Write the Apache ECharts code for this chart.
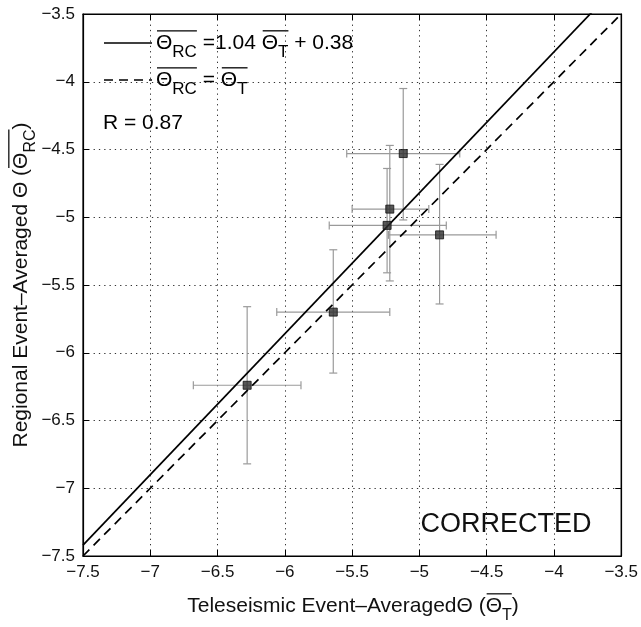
<!DOCTYPE html>
<html>
<head>
<meta charset="utf-8">
<script src="https://cdn.jsdelivr.net/npm/echarts@6/dist/echarts.min.js"></script>
<style>
  html, body { margin: 0; padding: 0; background: #fff; }
  #chart { width: 641px; height: 627px; }
</style>
</head>
<body>
<div id="chart"></div>
<script>
// Axis ticks and their printed labels
const xTickValues = [-7.5, -7, -6.5, -6, -5.5, -5, -4.5, -4, -3.5];
const xTickLabels = ['−7.5', '−7', '−6.5', '−6', '−5.5', '−5', '−4.5', '−4', '−3.5'];
const yTickValues = [-7.5, -7, -6.5, -6, -5.5, -5, -4.5, -4, -3.5];
const yTickLabels = ['−7.5', '−7', '−6.5', '−6', '−5.5', '−5', '−4.5', '−4', '−3.5'];

// Event-averaged values per station group
const thetaT      = [-5.12, -5.22, -5.24, -4.85, -5.64, -6.28];
const thetaRC     = [-4.53, -4.94, -5.06, -5.13, -5.70, -6.24];
const thetaTLow   = [-5.54, -5.50, -5.67, -5.23, -6.06, -6.68];
const thetaTHigh  = [-4.70, -4.93, -4.80, -4.43, -5.22, -5.88];
const thetaRCLow  = [-5.02, -5.47, -5.41, -5.64, -6.15, -6.82];
const thetaRCHigh = [-4.05, -4.47, -4.64, -4.61, -5.24, -5.66];

// Regression fit and the 1:1 reference
const fitSlope = 1.04;
const fitIntercept = 0.38;
const fitR = 0.87;
const axisMin = -7.5, axisMax = -3.5;

const FONT = "'Liberation Sans', Arial, Helvetica, sans-serif";

const fitLine = [
  [axisMin, fitSlope * axisMin + fitIntercept],
  [axisMax, fitSlope * axisMax + fitIntercept]
];
const oneToOne = [[axisMin, axisMin], [axisMax, axisMax]];

const points = thetaT.map((x, i) => [x, thetaRC[i]]);
const bars = thetaT.map((x, i) => [x, thetaRC[i], thetaTLow[i], thetaTHigh[i], thetaRCLow[i], thetaRCHigh[i]]);

function labelFor(values, labels) {
  return v => {
    const i = values.findIndex(t => Math.abs(t - v) < 1e-9);
    return i >= 0 ? labels[i] : '';
  };
}

// text width helper for laying out sub/overlined pieces
const measureCtx = document.createElement('canvas').getContext('2d');
function textWidth(str, size) {
  measureCtx.font = size + 'px ' + FONT;
  return measureCtx.measureText(str).width;
}

// Lays out a run of [text, kind] pieces; kind: 'n' normal, 's' subscript.
// overRanges lists [firstPiece, lastPiece] spans that get an overline.
// align: 'left' starts at x0, 'center' centres the run on x0.
function richRun(x0, y0, pieces, size, subSize, overRanges, color, align) {
  const widths = pieces.map(([str, kind]) => textWidth(str, kind === 's' ? subSize : size));
  const total = widths.reduce((a, b) => a + b, 0);
  let x = align === 'center' ? x0 - total / 2 : x0;
  const els = [];
  const xs = [];
  pieces.forEach(([str, kind], i) => {
    const sz = kind === 's' ? subSize : size;
    const dy = kind === 's' ? size * 0.45 : 0;
    xs.push([x, x + widths[i]]);
    els.push({
      type: 'text', x: x, y: y0 + dy,
      style: { text: str, fontSize: sz, fontFamily: FONT, fill: color,
               textAlign: 'left', textVerticalAlign: 'middle' }
    });
    x += widths[i];
  });
  overRanges.forEach(([a, b]) => {
    const oy = y0 - size * 0.58;
    els.push({
      type: 'line',
      shape: { x1: xs[a][0] + 1, y1: oy, x2: xs[b][1], y2: oy },
      style: { stroke: color, lineWidth: 1.3 }
    });
  });
  return els;
}

const chart = echarts.init(document.getElementById('chart'), null, { renderer: 'canvas' });

const gridLine = { show: true, lineStyle: { color: '#333', width: 1, type: [1.3, 4] } };

const legendEls = []
  .concat([{ type: 'line', shape: { x1: 104, y1: 43, x2: 152, y2: 43 }, style: { stroke: '#000', lineWidth: 1.6 } }])
  .concat(richRun(156, 43, [['Θ', 'n'], ['RC', 's'], [' =1.04 ', 'n'], ['Θ', 'n'], ['T', 's'], [' + 0.38', 'n']],
                  21, 17, [[0, 1], [3, 4]], '#000', 'left'))
  .concat([{ type: 'line', shape: { x1: 104, y1: 80, x2: 152, y2: 80 },
             style: { stroke: '#000', lineWidth: 1.6, lineDash: [9, 6] } }])
  .concat(richRun(156, 80, [['Θ', 'n'], ['RC', 's'], [' = ', 'n'], ['Θ', 'n'], ['T', 's']],
                  21, 17, [[0, 1], [3, 4]], '#000', 'left'))
  .concat([{ type: 'text', x: 103, y: 123,
             style: { text: 'R = ' + fitR.toFixed(2), fontSize: 21, fontFamily: FONT, fill: '#000',
                      textAlign: 'left', textVerticalAlign: 'middle' } }]);

const xTitleEls = richRun(353, 606,
  [['Teleseismic Event–AveragedΘ (', 'n'], ['Θ', 'n'], ['T', 's'], [')', 'n']],
  21, 16, [[1, 2]], '#111', 'center');

const yTitleEls = richRun(0, 0,
  [['Regional Event–Averaged Θ (', 'n'], ['Θ', 'n'], ['RC', 's'], [')', 'n']],
  21, 16, [[1, 2]], '#111', 'center');

const axisLabelStyle = { fontSize: 17, color: '#111', margin: 8, fontFamily: FONT };

const option = {
  backgroundColor: '#fff',
  animation: false,
  textStyle: { fontFamily: FONT },
  grid: { left: 83, right: 17, top: 14, bottom: 71, show: true, borderColor: '#000', borderWidth: 1.2 },
  xAxis: [{
    type: 'value', min: axisMin, max: axisMax, interval: 0.5,
    axisLine: { show: true, lineStyle: { color: '#000', width: 1.2 } },
    axisTick: { show: true, inside: true, length: 6, lineStyle: { color: '#000' } },
    axisLabel: Object.assign({ formatter: labelFor(xTickValues, xTickLabels) }, axisLabelStyle),
    splitLine: gridLine
  }, {
    type: 'value', position: 'top', min: axisMin, max: axisMax, interval: 0.5,
    axisLine: { show: true, lineStyle: { color: '#000', width: 1.2 } },
    axisTick: { show: true, inside: true, length: 6, lineStyle: { color: '#000' } },
    axisLabel: { show: false }, splitLine: { show: false }
  }],
  yAxis: [{
    type: 'value', min: axisMin, max: axisMax, interval: 0.5,
    axisLine: { show: true, lineStyle: { color: '#000', width: 1.2 } },
    axisTick: { show: true, inside: true, length: 6, lineStyle: { color: '#000' } },
    axisLabel: Object.assign({ formatter: labelFor(yTickValues, yTickLabels) }, axisLabelStyle),
    splitLine: gridLine
  }, {
    type: 'value', position: 'right', min: axisMin, max: axisMax, interval: 0.5,
    axisLine: { show: true, lineStyle: { color: '#000', width: 1.2 } },
    axisTick: { show: true, inside: true, length: 6, lineStyle: { color: '#000' } },
    axisLabel: { show: false }, splitLine: { show: false }
  }],
  series: [
    {
      type: 'custom', name: 'range', data: bars, z: 2,
      renderItem: (params, api) => {
        const c = api.coord([api.value(0), api.value(1)]);
        const xl = api.coord([api.value(2), api.value(1)]);
        const xh = api.coord([api.value(3), api.value(1)]);
        const yl = api.coord([api.value(0), api.value(4)]);
        const yh = api.coord([api.value(0), api.value(5)]);
        const cap = 4;
        const st = { stroke: '#9a9a9a', lineWidth: 1.2 };
        const seg = (x1, y1, x2, y2) => ({ type: 'line', shape: { x1, y1, x2, y2 }, style: st });
        return {
          type: 'group',
          children: [
            seg(xl[0], c[1], xh[0], c[1]),
            seg(xl[0], c[1] - cap, xl[0], c[1] + cap),
            seg(xh[0], c[1] - cap, xh[0], c[1] + cap),
            seg(c[0], yl[1], c[0], yh[1]),
            seg(c[0] - cap, yl[1], c[0] + cap, yl[1]),
            seg(c[0] - cap, yh[1], c[0] + cap, yh[1])
          ]
        };
      }
    },
    {
      type: 'line', name: 'fit', data: fitLine, symbol: 'none', z: 3, clip: true,
      lineStyle: { color: '#000', width: 1.7 }
    },
    {
      type: 'line', name: 'one-to-one', data: oneToOne, symbol: 'none', z: 3, clip: true,
      lineStyle: { color: '#000', width: 1.7, type: [9, 6] }
    },
    {
      type: 'scatter', name: 'events', data: points, symbol: 'rect', symbolSize: 8, z: 4,
      itemStyle: { color: '#2e2e2e', borderColor: '#111', borderWidth: 1 }
    }
  ],
  graphic: [
    { type: 'group', silent: true, children: legendEls },
    { type: 'text', x: 506, y: 525, silent: true,
      style: { text: 'CORRECTED', fontSize: 27, fontFamily: FONT, fill: '#111',
               textAlign: 'center', textVerticalAlign: 'middle' } },
    { type: 'group', silent: true, children: xTitleEls },
    { type: 'group', silent: true, x: 21, y: 285, rotation: Math.PI / 2, children: yTitleEls }
  ]
};

chart.setOption(option);
</script>
</body>
</html>
